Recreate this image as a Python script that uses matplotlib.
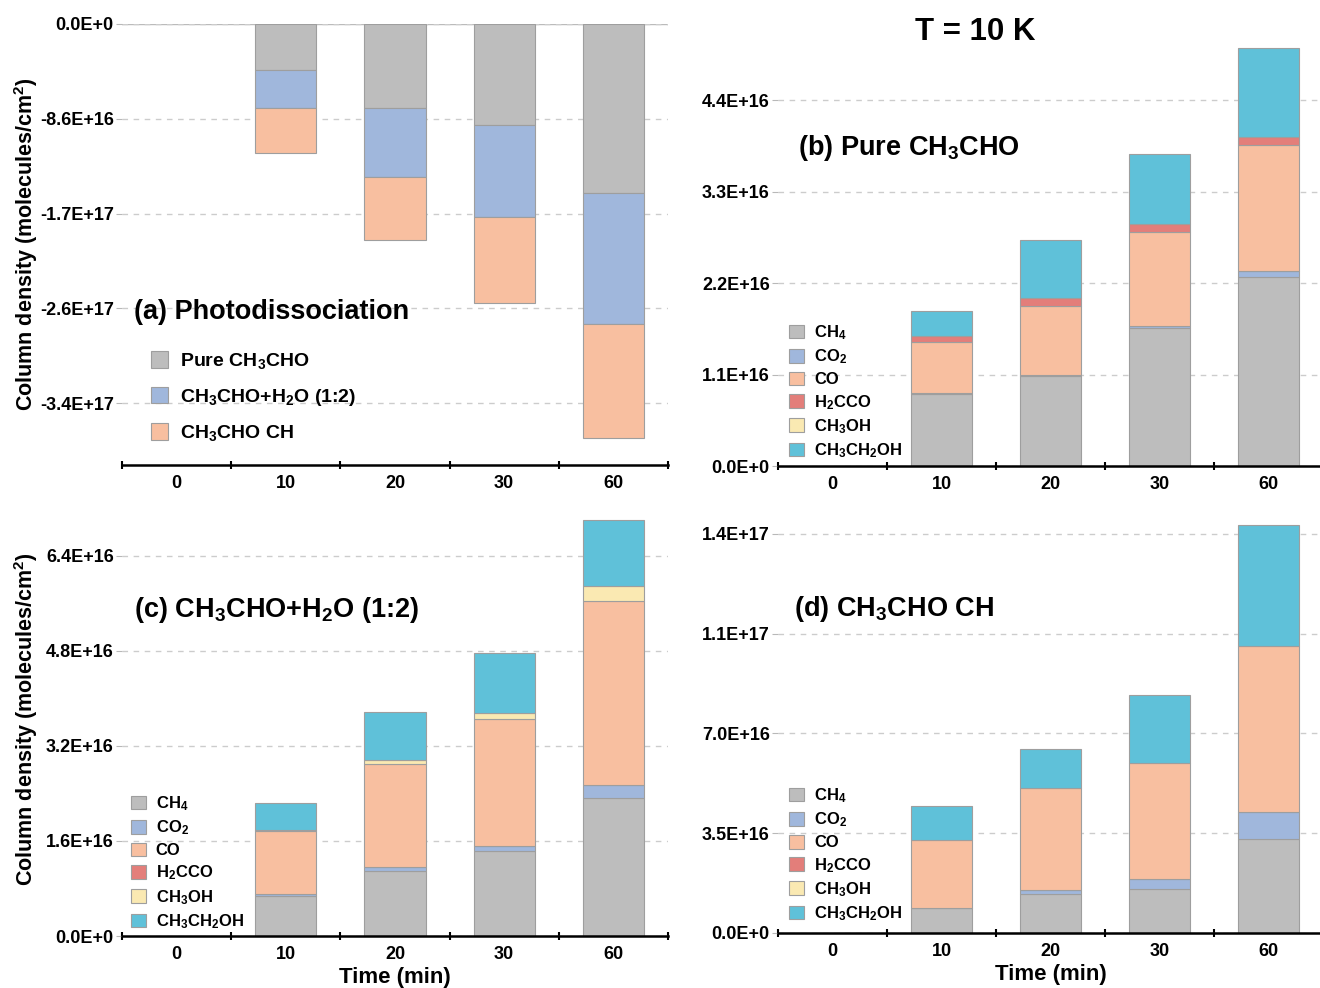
import matplotlib.pyplot as plt
import numpy as np
from matplotlib.patches import Patch
from matplotlib.ticker import FuncFormatter

# Fonte em negrito para tudo, e subscritos com a mesma fonte do texto
plt.rcParams['font.family'] = ['Liberation Sans Narrow', 'Liberation Sans', 'DejaVu Sans']
plt.rcParams['font.weight'] = 'bold'
plt.rcParams['axes.labelweight'] = 'bold'
plt.rcParams['mathtext.default'] = 'regular'

tempos = ['0', '10', '20', '30', '60']  # tempo de irradiação (min)

# (a) CH3CHO destruído, em 1E+16 moléculas/cm²
perda_puro = [0, 4.2, 7.6, 9.2, 15.3]
perda_agua = [0, 3.45, 6.3, 8.3, 11.9]
perda_ch = [0, 4.1, 5.7, 7.8, 10.4]

# (b) produtos no gelo de CH3CHO puro, em 1E+15 moléculas/cm²
puro_ch4 = [0, 8.65, 10.8, 16.6, 22.7]
puro_co2 = [0, 0.1, 0.2, 0.3, 0.7]
puro_co = [0, 6.2, 8.3, 11.3, 15.2]
puro_h2cco = [0, 0.7, 0.9, 0.9, 1.0]
puro_ch3oh = [0, 0, 0, 0, 0]
puro_etanol = [0, 3.05, 7.0, 8.4, 10.7]

# (c) produtos no gelo CH3CHO+H2O (1:2)
agua_ch4 = [0, 6.8, 11.0, 14.3, 23.2]
agua_co2 = [0, 0.3, 0.6, 0.8, 2.3]
agua_co = [0, 10.5, 17.3, 21.4, 30.9]
agua_h2cco = [0, 0, 0, 0, 0]
agua_ch3oh = [0, 0.3, 0.7, 1.1, 2.6]
agua_etanol = [0, 4.5, 8.1, 10.0, 11.0]

# (d) produtos no gelo CH3CHO CH
ch_ch4 = [0, 8.8, 13.7, 15.6, 33.1]
ch_co2 = [0, 0.1, 1.5, 3.2, 9.2]
ch_co = [0, 23.8, 35.5, 40.9, 58.3]
ch_h2cco = [0, 0, 0, 0, 0]
ch_ch3oh = [0, 0, 0, 0, 0]
ch_etanol = [0, 11.8, 13.7, 23.8, 42.5]

produtos = ['CH$_4$', 'CO$_2$', 'CO', 'H$_2$CCO', 'CH$_3$OH', 'CH$_3$CH$_2$OH']
cores = ['#bdbdbd', '#a0b7dc', '#f8bfa0', '#e37e7a', '#fae9b2', '#5fc1d9']
gelos = ['Pure CH$_3$CHO', 'CH$_3$CHO+H$_2$O (1:2)', 'CH$_3$CHO CH']

x = np.arange(len(tempos))
largura = 0.56
borda = '#9e9e9e'


def notacao(v, pos):  # rótulos do eixo y no formato 4.4E+16
    if v == 0:
        return '0.0E+0'
    e = int(np.floor(np.log10(abs(v)) + 1e-9))
    m = v / 10**e
    return f'{round(m + np.sign(m) * 1e-9, 1):.1f}E+{e}'


def empilhar(ax, series, escala, sinal=1):
    base = np.zeros(len(tempos))
    for vals, cor in zip(series, cores):
        v = np.array(vals) * escala * sinal
        lw = np.where(v == 0, 0, 0.8)  # sem contorno onde não há produto
        ax.bar(x, v, largura, bottom=base, color=cor, edgecolor=borda, linewidth=lw)
        base += v


def eixo(ax, ticks_y, ylim):
    ax.set_xlim(-0.5, 4.5)
    ax.set_ylim(*ylim)
    ax.set_yticks(ticks_y)
    ax.yaxis.set_major_formatter(FuncFormatter(notacao))
    ax.set_xticks(x)
    ax.set_xticklabels(tempos)
    ax.set_xticks(np.arange(-0.5, 5, 1), minor=True)
    ax.tick_params(axis='x', which='major', length=0, pad=7, labelsize=13)
    ax.tick_params(axis='x', which='minor', length=6, width=1.5, direction='inout', color='black')
    ax.tick_params(axis='y', length=4, color='#b8b8b8', labelsize=13, pad=2)
    for s in ['top', 'right', 'left']:
        ax.spines[s].set_visible(False)
    ax.spines['bottom'].set_linewidth(1.8)
    ax.yaxis.grid(True, linestyle=(0, (4, 4)), color='#cccccc', linewidth=1)
    ax.set_axisbelow(True)


def legenda(ax, nomes, pos, tamanho, espaco):
    alcas = [Patch(facecolor=c, edgecolor=borda, linewidth=0.8) for c in cores[:len(nomes)]]
    ax.legend(alcas, nomes, loc='upper left', bbox_to_anchor=pos, frameon=False,
              fontsize=tamanho, handlelength=0.9, handleheight=0.9, handletextpad=0.6,
              labelspacing=espaco, borderpad=0, borderaxespad=0)


fig = plt.figure(figsize=(13.2, 9.88), dpi=100)
ax_a = fig.add_axes([0.0924, 0.5294, 0.4136, 0.4464])
ax_b = fig.add_axes([0.5894, 0.5283, 0.4129, 0.4545])
ax_c = fig.add_axes([0.0924, 0.0526, 0.4136, 0.4389])
ax_d = fig.add_axes([0.5894, 0.0557, 0.4129, 0.4327])

# (a) fotodissociação: barras para baixo a partir do zero
empilhar(ax_a, [perda_puro, perda_agua, perda_ch], 1e16, sinal=-1)
eixo(ax_a, np.arange(0, -3.5e17, -8.6e16), (-4.0e17, 0))
ax_a.axhline(0, color='#bbbbbb', linewidth=1, zorder=0.5)
ax_a.text(0.022, 0.347, '(a) Photodissociation', transform=ax_a.transAxes,
          fontsize=19.5, va='center', ha='left')
legenda(ax_a, gelos, (0.053, 0.258), 14, 0.8)

# (b) CH3CHO puro
empilhar(ax_b, [puro_ch4, puro_co2, puro_co, puro_h2cco, puro_ch3oh, puro_etanol], 1e15)
eixo(ax_b, np.arange(0, 5e16, 1.1e16), (0, 5.4e16))
ax_b.text(0.037, 0.708, '(b) Pure CH$_3$CHO', transform=ax_b.transAxes,
          fontsize=19.5, va='center', ha='left')
legenda(ax_b, produtos, (0.020, 0.318), 12, 0.33)

# (c) CH3CHO+H2O
empilhar(ax_c, [agua_ch4, agua_co2, agua_co, agua_h2cco, agua_ch3oh, agua_etanol], 1e15)
eixo(ax_c, np.arange(0, 7e16, 1.6e16), (0, 7.3e16))
ax_c.text(0.022, 0.753, '(c) CH$_3$CHO+H$_2$O (1:2)', transform=ax_c.transAxes,
          fontsize=19.5, va='center', ha='left')
legenda(ax_c, produtos, (0.016, 0.327), 12, 0.33)

# (d) CH3CHO CH
empilhar(ax_d, [ch_ch4, ch_co2, ch_co, ch_h2cco, ch_ch3oh, ch_etanol], 1e15)
eixo(ax_d, np.arange(0, 1.45e17, 3.5e16), (0, 1.5e17))
ax_d.text(0.029, 0.758, '(d) CH$_3$CHO CH', transform=ax_d.transAxes,
          fontsize=19.5, va='center', ha='left')
legenda(ax_d, produtos, (0.020, 0.343), 12, 0.33)

for ax in (ax_a, ax_c):
    ax.set_ylabel('Column density (molecules/cm$^2$)', fontsize=15.5)
    ax.yaxis.set_label_coords(-0.150, 0.5)
for ax in (ax_c, ax_d):
    ax.set_xlabel('Time (min)', fontsize=16, labelpad=3)

fig.text(0.739, 0.968, 'T = 10 K', fontsize=22.5, ha='center', va='center')

fig.savefig('out.png', dpi=100)
